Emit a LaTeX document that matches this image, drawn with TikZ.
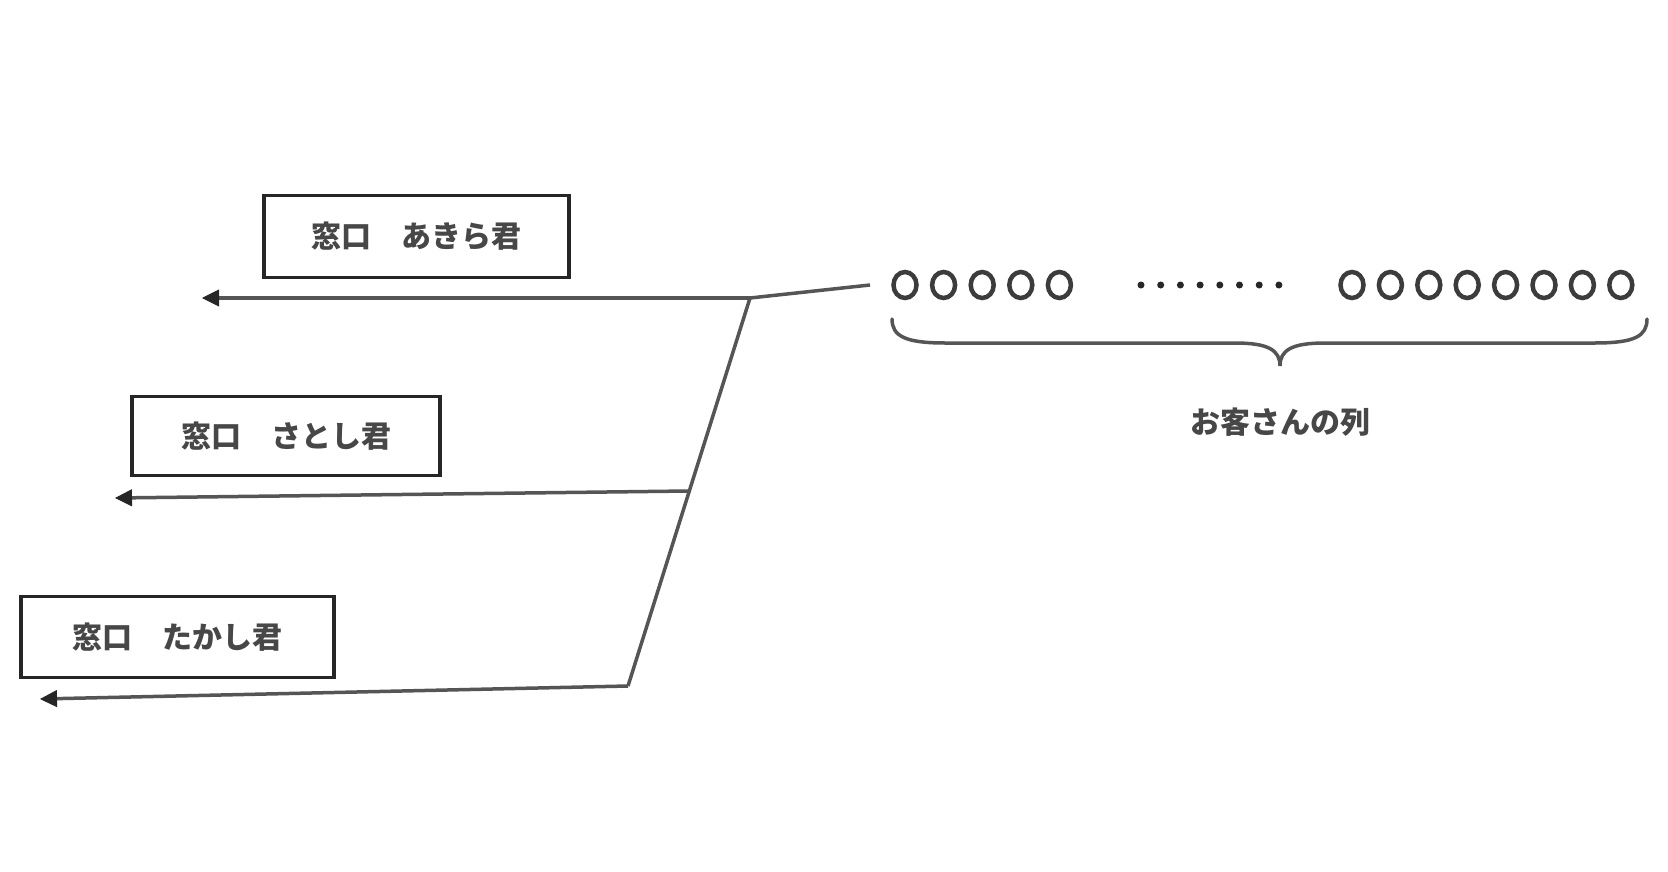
\documentclass[tikz,border=0pt]{standalone}
\usepackage{fontspec}
\newfontfamily\jp{Noto Sans CJK JP}
\usetikzlibrary{arrows.meta,calc,shapes.geometric}
\definecolor{ln}{HTML}{555555}
\definecolor{bx}{HTML}{262626}
\tikzset{
  win/.style={draw=bx, line width=3.5pt, minimum height=82pt, inner sep=0pt, font=\jp\bfseries\fontsize{30}{34}\selectfont, text=bx!85},
  conn/.style={draw=ln, line width=3.5pt},
  arr/.style={conn, -{Triangle[length=17pt, width=17pt, color=bx, fill=bx, line width=1pt]}},
  cust/.style={draw=bx!90, line width=4.5pt, ellipse, minimum width=23pt, minimum height=26pt, inner sep=0pt},
  qdot/.style={fill=bx, circle, minimum size=7pt, inner sep=0pt},
}
\begin{document}
\begin{tikzpicture}[x=1pt,y=-1pt]
\useasboundingbox (0,0) rectangle (1668,872);
\fill[white] (0,0) rectangle (1668,872);
% windows
\node[win, minimum width=305pt] (w1) at (416.5,236.5) {窓口　あきら君};
\node[win, minimum width=308pt, minimum height=79pt] (w2) at (286,436) {窓口　さとし君};
\node[win, minimum width=313pt, minimum height=81pt] (w3) at (177.5,637) {窓口　たかし君};
% junctions
\coordinate (q) at (870,285);
\coordinate (j1) at (750,298);
\coordinate (j3) at (628,686);
\coordinate (j2) at ($(j1)!0.4974!(j3)$);
\coordinate (e1) at (202,298);
\coordinate (e2) at (115,498);
\coordinate (e3) at (40,699);
\draw[conn, line join=round] (q) -- (j1) -- (j3);
\draw[arr] (j1) -- (e1);
\draw[arr] (j2) -- (e2);
\draw[arr] (j3) -- (e3);
% customers
\foreach \i in {0,...,4} {
  \node[cust] (a\i) at ({905+38.6*\i},285) {};
}
\foreach \i in {0,...,7} {
  \node[qdot] (d\i) at ({1141+19.7*\i},285) {};
}
\foreach \i in {0,...,7} {
  \node[cust] (b\i) at ({1352+38.4*\i},285) {};
}
% brace
\coordinate (bl) at (892,319);
\coordinate (bt) at (1280,366);
\coordinate (br) at (1647,319);
\draw[draw=ln, line width=3.5pt, line cap=round]
  (bl) .. controls (892,336) and (905,343) .. (945,343) -- (1235,343)
  .. controls (1268,343) and (1280,350) .. (bt)
  .. controls (1280,350) and (1292,343) .. (1325,343) -- (1595,343)
  .. controls (1635,343) and (1647,336) .. (br);
\node[font=\jp\bfseries\fontsize{30}{34}\selectfont, text=bx!85] (lab) at (1280,422) {お客さんの列};
\end{tikzpicture}
\end{document}
